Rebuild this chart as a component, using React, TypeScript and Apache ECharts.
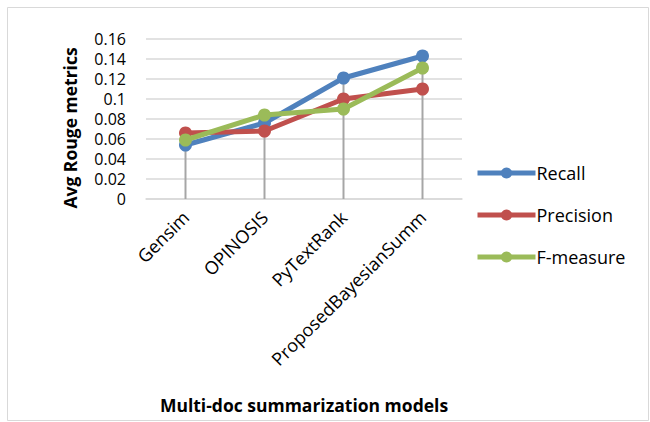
import React, { useEffect, useRef } from "react";
import * as echarts from "echarts";

const categories = ["Gensim", "OPINOSIS", "PyTextRank", "ProposedBayesianSumm"];
const recall = [0.054, 0.076, 0.121, 0.143];
const precision = [0.066, 0.068, 0.1, 0.11];
const fmeasure = [0.059, 0.084, 0.09, 0.131];
const yTicks = [0, 0.02, 0.04, 0.06, 0.08, 0.1, 0.12, 0.14, 0.16];
const yTitle = "Avg Rouge metrics";
const xTitle = "Multi-doc summarization models";

const FONT = "Open Sans";

export default function App() {
  const ref = useRef<HTMLDivElement>(null);
  useEffect(() => {
    if (!ref.current) return;
    const chart = echarts.init(ref.current, null, { renderer: "svg" });
    const dropHigh = categories.map((_, i) => Math.max(recall[i], precision[i], fmeasure[i]));
    const mkLine = (name: string, data: number[], color: string, z: number) => ({
      name,
      type: "line",
      data,
      z,
      symbol: "circle",
      symbolSize: 13,
      itemStyle: { color },
      lineStyle: { color, width: 5 },
    });
    chart.setOption({
      animation: false,
      backgroundColor: "#ffffff",
      textStyle: { fontFamily: FONT },
      graphic: [
        {
          type: "rect",
          shape: { x: 7.5, y: 7.5, width: 641, height: 413 },
          style: { fill: "none", stroke: "#d9d9d9", lineWidth: 1 },
          silent: true,
        },
        {
          type: "text",
          x: 70,
          y: 128,
          rotation: Math.PI / 2,
          style: {
            text: yTitle,
            fontFamily: FONT,
            fontSize: 17.5,
            fontWeight: "bold",
            fill: "#000",
            align: "center",
            verticalAlign: "middle",
          },
        },
      ],
      grid: { left: 146, top: 39, width: 316, height: 160, containLabel: false },
      legend: {
        data: ["Recall", "Precision", "F-measure"],
        orient: "vertical",
        left: 470,
        top: 158,
        itemGap: 22,
        itemWidth: 58,
        itemHeight: 14,
        lineStyle: { width: 5 },
        textStyle: {
          fontFamily: FONT,
          fontSize: 18,
          lineHeight: 20,
          color: "#000",
          padding: [0, 0, 0, -4],
        },
      },
      xAxis: {
        type: "category",
        data: categories,
        boundaryGap: true,
        name: xTitle,
        nameLocation: "middle",
        nameGap: 196,
        nameTextStyle: {
          fontFamily: FONT,
          fontSize: 17.5,
          lineHeight: 20,
          fontWeight: "bold",
          color: "#000",
        },
        axisLine: { show: true, lineStyle: { color: "#d9d9d9", width: 1.5 } },
        axisTick: { show: false },
        axisLabel: {
          rotate: 45,
          fontFamily: FONT,
          fontSize: 18,
          lineHeight: 20,
          color: "#000",
          margin: 15,
        },
        splitLine: { show: false },
      },
      yAxis: {
        type: "value",
        min: 0,
        max: 0.16,
        interval: 0.02,
        axisLine: { show: false },
        axisTick: { show: false },
        axisLabel: {
          fontFamily: FONT,
          fontSize: 16,
          lineHeight: 18,
          color: "#000",
          margin: 20,
          formatter: (v: number) => {
            const t = yTicks.find((x) => Math.abs(x - v) < 1e-9);
            return String(t !== undefined ? t : v);
          },
        },
        splitLine: { show: true, lineStyle: { color: "#d9d9d9", width: 1.5 } },
      },
      series: [
        {
          name: "drop",
          type: "bar",
          data: dropHigh,
          barWidth: 2,
          z: 1,
          itemStyle: { color: "#a6a6a6" },
          silent: true,
        },
        mkLine("Recall", recall, "#4f81bd", 3),
        mkLine("Precision", precision, "#c0504d", 4),
        mkLine("F-measure", fmeasure, "#9bbb59", 5),
      ],
    });
    return () => chart.dispose();
  }, []);
  return (
    <div
      ref={ref}
      style={{ position: "fixed", left: 0, top: 0, width: 650, height: 422 }}
    />
  );
}
